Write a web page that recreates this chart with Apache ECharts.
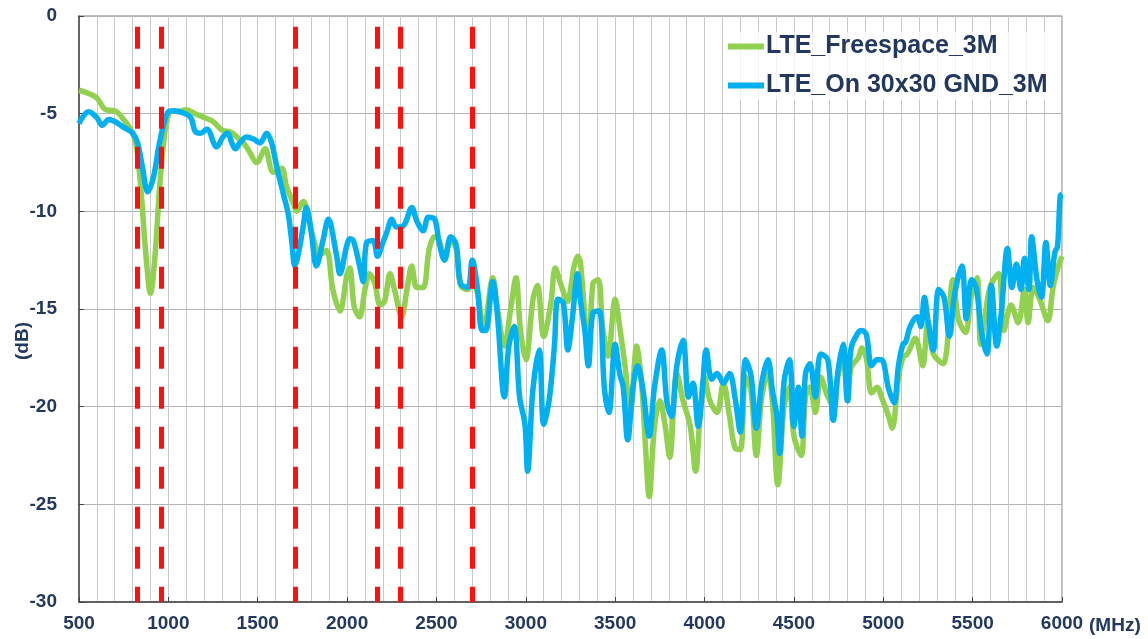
<!DOCTYPE html>
<html lang="en">
<head>
    <meta charset="UTF-8">
    <title>LTE antenna efficiency</title>
    <script src="https://cdn.jsdelivr.net/npm/echarts@6/dist/echarts.min.js"></script>
    <style>
        html, body { margin: 0; padding: 0; background: #fff; }
        #main { width: 1148px; height: 639px; }
    </style>
</head>
<body>
<div id="main"></div>
<script type="text/javascript">
    // values (MHz / dB)
    var seriesNames = ['LTE_Freespace_3M', 'LTE_On 30x30 GND_3M'];

    var greenFreq = [500, 550, 600, 650, 700, 750, 800, 825, 850, 875, 900, 925, 950, 975, 1000, 1025, 1050, 1100, 1150, 1200,
        1250, 1300, 1330, 1360, 1400, 1430, 1457, 1494, 1541, 1587, 1634, 1660, 1700, 1718, 1754, 1790, 1800, 1850, 1885, 1920,
        1960, 2000, 2015, 2040, 2070, 2100, 2125, 2155, 2185, 2210, 2240, 2265, 2305, 2335, 2362, 2390, 2425, 2460, 2490, 2515,
        2545, 2580, 2610, 2635, 2675, 2700, 2730, 2765, 2815, 2840, 2880, 2915, 2945, 2970, 3000, 3040, 3065, 3100, 3140, 3165,
        3195, 3235, 3250, 3270, 3290, 3305, 3330, 3350, 3375, 3405, 3430, 3460, 3500, 3525, 3555, 3585, 3620, 3650, 3670, 3690,
        3720, 3750, 3780, 3805, 3845, 3880, 3920, 3950, 3975, 4000, 4030, 4070, 4105, 4140, 4170, 4200, 4230, 4260, 4290, 4320,
        4355, 4380, 4410, 4445, 4475, 4500, 4540, 4565, 4590, 4620, 4650, 4690, 4725, 4745, 4775, 4800, 4820, 4860, 4880, 4905,
        4935, 4965, 4990, 5030, 5050, 5085, 5110, 5135, 5180, 5220, 5250, 5280, 5335, 5390, 5420, 5460, 5490, 5525, 5545, 5575,
        5600, 5645, 5675, 5715, 5755, 5790, 5810, 5840, 5875, 5920, 5950, 5980, 6000];
    var greenDb = [-3.8, -3.95, -4.2, -4.8, -4.85, -5.3, -6.0, -6.9, -9.3, -12.3, -14.2, -12.3, -8.9, -6.35, -5.07, -4.85, -4.9, -4.8, -5.0, -5.2,
        -5.4, -5.85, -5.9, -6.0, -6.35, -6.6, -7.0, -7.5, -6.8, -8.0, -7.8, -8.7, -9.6, -10.0, -9.5, -10.5, -11.0, -12.2, -12.0, -14.0,
        -15.1, -13.2, -12.9, -14.9, -15.4, -14.0, -13.2, -13.7, -14.8, -14.6, -13.2, -14.0, -15.4, -14.0, -12.8, -13.9, -13.9, -11.9, -11.3, -11.5,
        -12.4, -11.5, -11.9, -13.8, -14.0, -13.5, -14.2, -16.0, -13.4, -14.9, -16.9, -15.0, -13.4, -16.1, -17.6, -14.5, -13.8, -16.4, -14.7, -12.9,
        -13.7, -14.6, -14.0, -12.8, -12.3, -12.6, -15.4, -17.9, -13.7, -13.5, -15.9, -17.4, -14.5, -15.9, -17.9, -20.3, -16.9, -19.1, -22.1, -24.6,
        -21.0, -19.7, -21.0, -22.6, -18.3, -19.7, -21.0, -23.3, -20.4, -18.5, -19.7, -20.3, -18.8, -20.5, -22.1, -22.2, -18.5, -19.2, -22.5, -19.5,
        -18.3, -19.8, -24.0, -20.0, -19.0, -21.5, -22.5, -19.5, -19.0, -20.3, -18.5, -19.5, -20.0, -18.5, -17.5, -19.7, -18.0, -17.5, -17.0, -17.5,
        -19.3, -19.0, -19.5, -20.5, -21.1, -18.5, -17.5, -17.3, -16.5, -17.9, -15.7, -17.3, -17.8, -13.5, -15.5, -16.2, -14.5, -13.4, -16.8, -15.0,
        -13.8, -13.2, -16.1, -14.8, -15.7, -14.0, -15.7, -13.9, -14.5, -15.6, -13.9, -12.8, -12.3];

    var blueFreq = [500, 554, 600, 630, 667, 700, 750, 800, 828, 854, 885, 918, 946, 975, 1000, 1030, 1080, 1125, 1150, 1180,
        1215, 1270, 1305, 1330, 1360, 1375, 1400, 1438, 1475, 1513, 1550, 1578, 1606, 1643, 1670, 1690, 1708, 1727, 1754, 1772,
        1800, 1828, 1865, 1895, 1940, 1960, 1997, 2015, 2035, 2070, 2090, 2109, 2146, 2170, 2200, 2225, 2250, 2275, 2300, 2325,
        2362, 2390, 2425, 2455, 2490, 2515, 2545, 2580, 2610, 2635, 2675, 2700, 2730, 2755, 2775, 2815, 2840, 2880, 2905, 2935,
        2965, 2995, 3010, 3040, 3075, 3100, 3130, 3160, 3180, 3210, 3235, 3260, 3290, 3305, 3330, 3350, 3375, 3410, 3440, 3465,
        3500, 3525, 3545, 3570, 3600, 3625, 3655, 3690, 3720, 3760, 3790, 3815, 3845, 3880, 3910, 3935, 3965, 3985, 4010, 4040,
        4070, 4105, 4140, 4170, 4200, 4230, 4260, 4290, 4320, 4355, 4380, 4405, 4420, 4445, 4475, 4500, 4525, 4545, 4565, 4590,
        4620, 4650, 4690, 4720, 4745, 4775, 4800, 4820, 4860, 4880, 4905, 4935, 4965, 4990, 5030, 5060, 5085, 5110, 5125, 5150,
        5190, 5210, 5230, 5250, 5280, 5310, 5340, 5370, 5400, 5440, 5465, 5495, 5520, 5550, 5580, 5605, 5635, 5660, 5695, 5720,
        5745, 5770, 5790, 5815, 5830, 5860, 5885, 5910, 5935, 5960, 5975, 5990, 6000];
    var blueDb = [-5.5, -4.9, -5.2, -5.6, -5.3, -5.4, -5.7, -6.0, -6.5, -7.7, -9.0, -8.2, -6.7, -5.5, -4.9, -4.85, -4.95, -5.2, -5.9, -6.0,
        -5.8, -6.7, -6.2, -6.0, -6.6, -6.8, -6.5, -6.2, -6.3, -6.5, -6.0, -6.5, -7.7, -9.1, -10.1, -11.5, -12.8, -12.2, -10.8, -9.8,
        -11.1, -12.8, -11.5, -10.4, -12.2, -13.2, -11.8, -11.4, -11.5, -12.8, -13.6, -11.6, -11.5, -12.3, -11.6, -11.0, -10.4, -10.8, -10.8, -10.6,
        -9.8, -10.5, -11.0, -10.3, -10.4, -11.6, -12.5, -11.3, -11.7, -13.7, -13.9, -12.5, -14.0, -16.1, -16.1, -13.6, -15.2, -19.5, -16.9, -15.9,
        -19.5, -20.9, -23.3, -19.1, -17.1, -20.9, -19.7, -16.9, -14.5, -14.7, -17.1, -15.5, -13.2, -14.5, -16.1, -17.9, -15.2, -15.1, -19.1, -20.3,
        -16.8, -18.3, -19.0, -21.7, -19.0, -17.9, -19.1, -21.5, -19.0, -17.1, -19.8, -20.5, -17.9, -16.6, -19.5, -18.8, -21.0, -19.5, -17.1, -18.6,
        -18.3, -18.8, -18.3, -19.5, -21.3, -17.6, -18.4, -21.1, -18.8, -17.6, -19.2, -20.5, -22.4, -18.7, -17.6, -21.0, -19.0, -21.5, -18.3, -17.8,
        -19.5, -17.3, -17.6, -20.7, -18.3, -16.8, -19.7, -17.0, -16.2, -16.1, -16.3, -17.9, -17.6, -17.6, -19.1, -19.8, -17.9, -16.8, -16.7, -15.9,
        -15.4, -15.9, -14.4, -15.6, -17.1, -14.0, -14.4, -16.4, -14.2, -12.8, -15.5, -13.5, -13.9, -16.2, -17.3, -13.8, -16.9, -15.2, -11.9, -13.9,
        -12.7, -14.0, -12.4, -14.0, -11.3, -13.5, -14.4, -11.6, -13.8, -12.1, -11.8, -9.2, -9.1];

    // LTE band edges marked with red dashes
    var bandEdges = [824, 960, 1710, 2170, 2300, 2700];

    var textColor = '#22385e';
    var font = '"Liberation Sans", Arial, sans-serif';

    function pairs(xs, ys) {
        return xs.map(function (x, i) { return [x, ys[i]]; });
    }

    var myChart = echarts.init(document.getElementById('main'), null, {renderer: 'canvas'});

    var option = {
        animation: false,
        backgroundColor: '#ffffff',
        textStyle: {fontFamily: font},
        grid: {
            left: 79, right: 86, top: 16, bottom: 37,
            containLabel: false,
            outerBoundsMode: 'none',
            show: true, borderColor: '#7a7a7a', borderWidth: 1
        },
        legend: {
            orient: 'vertical',
            left: 728, top: 32,
            itemWidth: 36, itemHeight: 6, itemGap: 14,
            icon: 'rect',
            backgroundColor: 'rgba(255,255,255,0.75)',
            padding: [2, 4, 2, 0],
            textStyle: {color: textColor, fontSize: 25, fontWeight: 'bold', fontFamily: font, padding: [0, 0, 0, -3]},
            data: seriesNames
        },
        xAxis: {
            type: 'value',
            min: 500, max: 6000, interval: 500,
            name: '(MHz)',
            nameLocation: 'end',
            nameGap: 26,
            nameTextStyle: {color: textColor, fontSize: 19, fontWeight: 'bold', verticalAlign: 'top', padding: [14, 0, 0, 0]},
            axisLine: {show: true, onZero: false, lineStyle: {color: '#444', width: 1.5}},
            axisTick: {show: true, inside: true, length: 5, lineStyle: {color: '#444'}},
            axisLabel: {
                color: textColor, fontSize: 19, fontWeight: 'bold', margin: 12,
                formatter: function (v) { return String(v); }
            },
            splitLine: {show: true, lineStyle: {color: '#c9c9c9', width: 1}},
            minorTick: {show: false, splitNumber: 5},
            minorSplitLine: {show: true, lineStyle: {color: '#c9c9c9', width: 1}}
        },
        yAxis: {
            type: 'value',
            min: -30, max: 0, interval: 5,
            name: '(dB)',
            nameLocation: 'middle',
            nameRotate: 90,
            nameGap: 47,
            nameMoveOverlap: false,
            nameTextStyle: {color: textColor, fontSize: 19, fontWeight: 'bold', padding: [0, 64, 0, 0]},
            axisLine: {show: true, lineStyle: {color: '#444', width: 1.5}},
            axisTick: {show: true, inside: true, length: 5, lineStyle: {color: '#444'}},
            axisLabel: {color: textColor, fontSize: 19, fontWeight: 'bold', margin: 22},
            splitLine: {show: true, lineStyle: {color: '#b4b4b4', width: 1}}
        },
        series: [
            {
                name: seriesNames[0],
                type: 'line',
                data: pairs(greenFreq, greenDb),
                showSymbol: false,
                smooth: 0.35,
                lineStyle: {color: '#92d050', width: 5.5},
                itemStyle: {color: '#92d050'},
                z: 2
            },
            {
                name: seriesNames[1],
                type: 'line',
                data: pairs(blueFreq, blueDb),
                showSymbol: false,
                smooth: 0.35,
                lineStyle: {color: '#00b0f0', width: 5.5},
                itemStyle: {color: '#00b0f0'},
                z: 3
            },
            {
                name: 'bands',
                type: 'line',
                data: [],
                z: 5,
                markLine: {
                    silent: true,
                    symbol: ['none', 'none'],
                    label: {show: false},
                    lineStyle: {color: '#ff1010', width: 5, type: [22, 18], opacity: 1},
                    data: bandEdges.map(function (f) {
                        return [{coord: [f, -0.55]}, {coord: [f, -30]}];
                    })
                }
            }
        ]
    };
    myChart.setOption(option);
</script>
</body>
</html>
